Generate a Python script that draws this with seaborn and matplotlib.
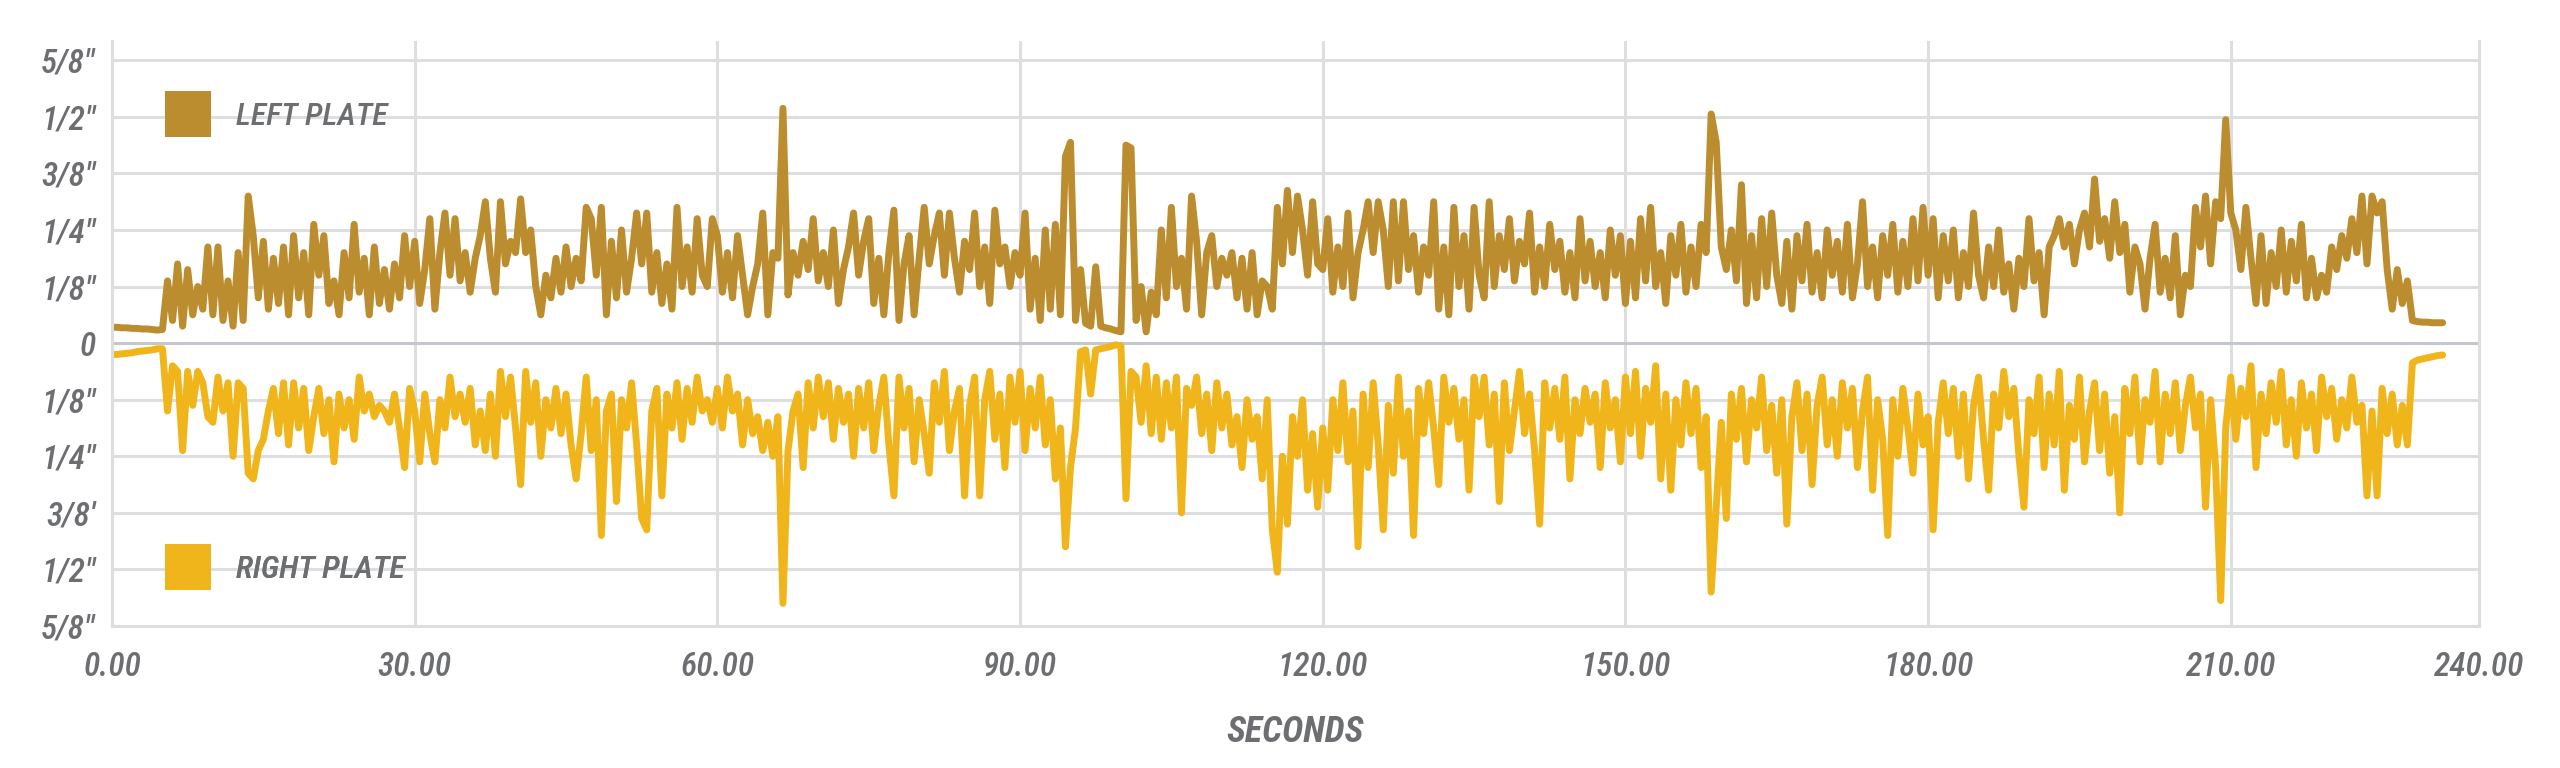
import numpy as np
import pandas as pd
import matplotlib
matplotlib.use("Agg")
import matplotlib.pyplot as plt
import seaborn as sns
from matplotlib.lines import Line2D

STEP = 0.5
left_plate = [
    # 0 - 30 s
    0.28, 0.28, 0.27, 0.27, 0.26, 0.26, 0.25, 0.25, 0.24, 0.23,
    0.24, 1.1, 0.4, 1.4, 0.3, 1.3, 0.5, 1.0, 0.6, 1.7,
    0.5, 1.7, 0.4, 1.1, 0.3, 1.6, 0.4, 2.6, 1.9, 0.8,
    1.8, 0.6, 1.5, 0.7, 1.7, 0.5, 1.9, 0.8, 1.6, 0.5,
    2.1, 1.2, 1.9, 0.7, 1.1, 0.5, 1.6, 0.8, 2.1, 0.9,
    1.5, 0.5, 1.7, 0.7, 1.3, 0.6, 1.4, 0.8, 1.9, 1.0,
    # 30 - 60 s
    1.8, 0.7, 1.3, 2.2, 0.6, 1.6, 2.3, 1.2, 2.2, 1.1,
    1.6, 0.9, 1.5, 1.9, 2.5, 1.5, 0.9, 2.5, 1.4, 1.8,
    1.6, 2.55, 1.6, 2.0, 1.0, 0.5, 1.2, 0.8, 1.5, 0.9,
    1.7, 1.0, 1.5, 1.1, 2.4, 2.2, 1.2, 2.4, 0.5, 1.8,
    0.8, 2.0, 0.9, 1.5, 2.3, 1.4, 2.3, 0.9, 1.6, 0.7,
    1.4, 0.6, 2.4, 1.0, 1.7, 0.9, 2.2, 1.2, 1.0, 2.2,
    # 60 - 90 s
    1.9, 0.9, 1.6, 0.8, 1.9, 1.2, 0.5, 1.0, 1.4, 2.3,
    0.5, 1.6, 1.5, 4.15, 0.85, 1.6, 1.2, 1.8, 1.3, 2.2,
    1.1, 1.6, 1.0, 2.0, 0.7, 1.3, 1.7, 2.3, 1.2, 1.8,
    2.2, 0.7, 1.5, 0.5, 1.6, 2.35, 0.4, 1.4, 1.9, 0.5,
    1.5, 2.4, 1.4, 1.9, 2.3, 1.2, 2.3, 1.5, 0.9, 1.8,
    1.3, 2.3, 1.0, 1.7, 0.7, 2.35, 1.4, 1.7, 1.0, 1.6,
    # 90 - 120 s
    1.2, 2.3, 0.6, 1.5, 0.4, 2.0, 0.6, 2.1, 0.5, 3.3,
    3.55, 0.4, 1.3, 0.35, 0.3, 1.35, 0.3, 0.27, 0.25, 0.22,
    0.2, 3.5, 3.45, 0.4, 1.0, 0.2, 0.9, 0.5, 2.0, 0.8,
    2.4, 1.0, 1.5, 0.6, 2.6, 1.8, 0.5, 1.6, 1.9, 1.0,
    1.5, 1.2, 1.6, 0.8, 1.5, 0.6, 1.6, 0.5, 1.1, 1.0,
    0.6, 2.4, 1.4, 2.7, 1.6, 2.6, 2.0, 1.2, 2.5, 1.4,
    # 120 - 150 s
    1.3, 2.2, 0.9, 1.7, 1.0, 2.3, 0.8, 1.6, 2.0, 2.5,
    1.6, 2.5, 2.0, 1.0, 2.5, 1.1, 2.5, 1.3, 1.9, 0.9,
    1.7, 1.2, 2.5, 0.6, 1.7, 0.5, 2.4, 1.0, 1.9, 0.6,
    2.4, 1.2, 0.8, 2.5, 1.0, 1.9, 1.3, 2.2, 1.1, 1.8,
    1.4, 2.3, 0.9, 1.7, 1.0, 2.1, 1.3, 1.8, 0.9, 1.6,
    0.8, 2.2, 1.1, 1.8, 1.0, 1.6, 0.8, 2.0, 1.2, 1.9,
    # 150 - 180 s
    0.7, 1.8, 0.8, 2.2, 1.1, 2.4, 1.0, 1.6, 0.7, 1.9,
    1.2, 2.1, 0.9, 1.7, 1.0, 2.1, 1.6, 4.05, 3.55, 1.7,
    1.3, 2.0, 1.1, 2.8, 0.7, 1.9, 0.8, 2.2, 1.0, 2.3,
    1.2, 0.7, 1.8, 0.6, 1.9, 1.1, 2.1, 0.9, 1.6, 0.8,
    2.0, 1.2, 1.8, 0.9, 2.1, 0.8, 1.4, 2.5, 1.0, 1.7,
    0.8, 1.9, 1.2, 2.1, 0.9, 1.8, 1.0, 2.2, 1.1, 2.4,
    # 180 - 210 s
    1.2, 2.2, 0.8, 1.9, 1.1, 2.0, 0.8, 1.6, 1.0, 2.3,
    1.2, 0.8, 1.7, 1.0, 2.0, 0.9, 1.4, 0.6, 1.5, 1.0,
    2.2, 1.1, 1.6, 0.5, 1.7, 1.9, 2.2, 1.7, 2.1, 1.4,
    2.0, 2.3, 1.7, 2.9, 1.8, 2.2, 1.5, 2.5, 1.6, 2.1,
    0.9, 1.7, 1.4, 0.6, 1.5, 2.1, 0.9, 1.5, 0.8, 1.9,
    0.5, 1.2, 1.0, 2.4, 1.7, 2.6, 1.4, 2.5, 2.2, 3.95,
    # 210 - 231 s
    2.3, 2.0, 1.3, 2.4, 1.5, 0.7, 1.9, 0.7, 1.6, 1.0,
    2.0, 0.9, 1.8, 1.1, 2.1, 0.8, 1.5, 0.8, 1.2, 0.9,
    1.7, 1.3, 1.9, 1.5, 2.2, 1.6, 2.6, 1.4, 2.6, 2.3,
    2.5, 1.3, 0.6, 1.3, 0.7, 1.1, 0.4, 0.38, 0.37, 0.37,
    0.36, 0.36, 0.36,
]

right_plate = [
    # 0 - 30 s
    -0.2, -0.2, -0.19, -0.18, -0.17, -0.15, -0.14, -0.13, -0.12, -0.1,
    -0.1, -1.2, -0.4, -0.5, -1.9, -0.5, -1.1, -0.5, -0.7, -1.3,
    -1.4, -0.6, -1.2, -0.7, -2.0, -0.7, -0.8, -2.3, -2.4, -1.9,
    -1.7, -1.2, -0.8, -1.6, -0.7, -1.8, -0.7, -1.5, -0.8, -1.9,
    -1.3, -0.8, -1.6, -1.0, -2.1, -0.9, -1.5, -1.0, -1.7, -0.6,
    -1.2, -0.9, -1.3, -1.1, -1.2, -1.4, -0.9, -1.5, -2.2, -0.8,
    # 30 - 60 s
    -1.2, -2.1, -0.9, -1.6, -2.1, -1.0, -1.5, -0.6, -1.3, -0.9,
    -1.4, -0.8, -1.8, -1.2, -1.9, -0.9, -2.0, -0.5, -1.3, -0.6,
    -1.5, -2.5, -0.5, -1.4, -0.7, -2.0, -1.0, -1.5, -0.8, -1.6,
    -0.9, -1.8, -2.4, -1.6, -0.6, -1.9, -1.0, -3.4, -1.2, -0.9,
    -2.8, -1.0, -1.5, -0.7, -1.8, -3.1, -3.3, -1.2, -0.8, -2.7,
    -0.9, -1.5, -0.7, -1.7, -0.8, -1.4, -0.6, -1.2, -1.0, -1.4,
    # 60 - 90 s
    -0.8, -1.5, -0.6, -1.2, -0.9, -1.8, -1.0, -1.6, -1.3, -1.9,
    -1.4, -2.0, -1.3, -4.6, -1.9, -1.2, -0.9, -2.2, -0.7, -1.5,
    -0.6, -1.3, -0.7, -1.7, -0.8, -1.4, -0.9, -2.0, -0.8, -1.5,
    -0.7, -1.9, -1.1, -0.6, -1.8, -2.7, -0.6, -1.5, -0.8, -2.1,
    -1.0, -1.6, -2.3, -0.7, -1.4, -0.5, -1.9, -1.2, -0.8, -2.7,
    -1.1, -0.6, -2.7, -1.0, -0.5, -1.7, -0.9, -2.2, -0.6, -1.4,
    # 90 - 120 s
    -0.5, -1.9, -0.8, -1.5, -0.6, -1.8, -1.0, -2.4, -1.5, -3.6,
    -2.2, -1.5, -0.15, -0.12, -0.9, -0.12, -0.1, -0.08, -0.06, -0.03,
    -0.05, -2.75, -0.5, -0.6, -1.4, -0.4, -1.6, -0.6, -1.7, -0.7,
    -1.5, -0.6, -3.0, -0.8, -1.1, -0.6, -1.6, -0.9, -1.9, -0.7,
    -1.5, -0.9, -1.8, -1.3, -2.2, -1.0, -1.7, -1.3, -2.4, -1.0,
    -3.3, -4.05, -2.0, -3.2, -1.3, -2.0, -1.0, -2.6, -1.6, -2.9,
    # 120 - 150 s
    -1.5, -2.6, -1.0, -1.9, -0.7, -2.1, -1.2, -3.6, -0.9, -2.2,
    -0.7, -1.8, -3.3, -1.1, -2.3, -0.6, -2.0, -1.2, -3.4, -0.8,
    -1.6, -0.7, -1.5, -2.5, -0.6, -1.4, -0.8, -1.7, -1.0, -2.6,
    -0.6, -1.3, -0.6, -1.8, -0.9, -2.8, -0.7, -1.9, -1.2, -0.5,
    -1.6, -0.9, -1.9, -3.2, -0.7, -1.5, -0.8, -1.7, -0.6, -2.4,
    -1.0, -1.6, -0.8, -1.4, -0.9, -2.2, -0.7, -1.5, -1.0, -2.1,
    # 150 - 180 s
    -0.6, -1.6, -0.5, -2.0, -0.8, -1.4, -0.4, -2.4, -0.9, -2.6,
    -1.0, -1.8, -0.7, -1.6, -0.8, -2.2, -1.3, -4.4, -2.9, -1.4,
    -3.1, -0.9, -1.7, -0.8, -2.1, -1.0, -1.5, -0.6, -1.9, -1.1,
    -2.3, -1.0, -3.2, -1.3, -0.7, -1.9, -0.9, -2.5, -1.1, -0.6,
    -1.8, -1.0, -2.0, -0.7, -1.5, -0.8, -2.2, -1.2, -0.6, -2.6,
    -1.0, -1.7, -3.4, -1.0, -2.0, -0.8, -1.5, -2.3, -0.9, -1.8,
    # 180 - 210 s
    -1.3, -3.3, -1.4, -0.7, -1.6, -0.8, -2.0, -0.9, -2.4, -1.1,
    -0.6, -1.7, -2.6, -0.9, -1.5, -0.5, -1.3, -0.8, -2.0, -2.9,
    -1.0, -1.6, -0.6, -2.2, -0.9, -1.8, -0.5, -2.6, -1.1, -1.7,
    -0.6, -2.1, -1.2, -0.7, -1.9, -0.9, -2.3, -1.3, -3.0, -0.8,
    -1.6, -0.6, -2.1, -1.0, -1.4, -0.5, -2.1, -0.9, -1.6, -0.7,
    -1.9, -1.1, -0.6, -1.5, -0.9, -2.9, -1.0, -2.2, -4.55, -1.5,
    # 210 - 231 s
    -0.6, -1.7, -0.8, -1.3, -0.4, -2.2, -0.9, -1.6, -0.7, -1.4,
    -0.5, -1.8, -1.0, -2.0, -0.7, -1.5, -0.9, -1.9, -0.6, -1.3,
    -0.8, -1.7, -1.0, -1.5, -0.6, -1.4, -1.1, -2.7, -1.2, -2.7,
    -0.8, -1.6, -0.9, -1.8, -1.1, -1.8, -0.35, -0.3, -0.28, -0.26,
    -0.24, -0.22, -0.21,
]

x_ticks = [0, 30, 60, 90, 120, 150, 180, 210, 234.6]
x_tick_labels = ["0.00", "30.00", "60.00", "90.00", "120.00", "150.00",
                 "180.00", "210.00", "240.00"]
y_ticks = [-5, -4, -3, -2, -1, 0, 1, 2, 3, 4, 5]
y_tick_labels = ['5/8"', '1/2"', "3/8'", '1/4"', '1/8"', "0",
                 '1/8"', '1/4"', '3/8"', '1/2"', '5/8"']

LEFT_COLOR = "#BC8D2E"
RIGHT_COLOR = "#F1B51C"
TEXT = "#6D6E71"
GRID = "#DCDEE0"

assert len(left_plate) == len(right_plate)
seconds = np.arange(len(left_plate)) * STEP
df = pd.DataFrame({"seconds": seconds, "LEFT PLATE": left_plate, "RIGHT PLATE": right_plate})
long = df.melt(id_vars="seconds", var_name="plate", value_name="offset")

sns.set_style("white")
plt.rcParams["font.family"] = ["Liberation Sans Narrow", "Roboto Condensed", "Roboto", "DejaVu Sans"]

fig = plt.figure(figsize=(25.6, 7.68), dpi=100)
ax = fig.add_axes([0.04375, 0.1849, 0.9246, 0.7617])

sns.lineplot(data=long, x="seconds", y="offset", hue="plate",
             palette={"LEFT PLATE": LEFT_COLOR, "RIGHT PLATE": RIGHT_COLOR},
             estimator=None, legend=False, linewidth=5, ax=ax,
             solid_joinstyle="round", solid_capstyle="round")

ax.set_xlim(0, 234.6)
ax.set_ylim(-5, 5.34)
ax.set_xticks(x_ticks)
ax.set_xticklabels(x_tick_labels)
ax.set_yticks(y_ticks)
ax.set_yticklabels(y_tick_labels)
ax.tick_params(axis="both", length=0, labelsize=24, labelcolor=TEXT)
ax.tick_params(axis="x", pad=18)
ax.tick_params(axis="y", pad=12)
for lab in ax.get_xticklabels() + ax.get_yticklabels():
    lab.set_fontstyle("italic")
    lab.set_fontweight("medium")

ax.grid(True, color=GRID, linewidth=2.2)
ax.set_axisbelow(True)
ax.get_ygridlines()[5].set_color("#C4C8CC")
# last x tick sits on the right border, no extra grid line there
ax.get_xgridlines()[-1].set_visible(False)
for side in ["left", "bottom", "right"]:
    ax.spines[side].set_color(GRID)
    ax.spines[side].set_linewidth(2.2)
ax.spines["top"].set_visible(False)

ax.set_xlabel("SECONDS", fontsize=26, fontweight="heavy", fontstyle="italic",
              color=TEXT, labelpad=22)
ax.set_ylabel("")

for name, color, ypos in [("LEFT PLATE", LEFT_COLOR, 4), ("RIGHT PLATE", RIGHT_COLOR, -4)]:
    h = Line2D([], [], linestyle="none", marker="s", markersize=32.5,
               markerfacecolor=color, markeredgewidth=0)
    leg = ax.legend([h], [name], loc="center left", bbox_to_anchor=(5.35, ypos),
                    bbox_transform=ax.transData, frameon=False, borderpad=0,
                    borderaxespad=0, handlelength=1.4, handletextpad=0.8,
                    prop={"size": 23, "style": "italic", "weight": "medium"})
    for t in leg.get_texts():
        t.set_color(TEXT)
    ax.add_artist(leg)

fig.savefig("out.png", dpi=100, facecolor="white")
